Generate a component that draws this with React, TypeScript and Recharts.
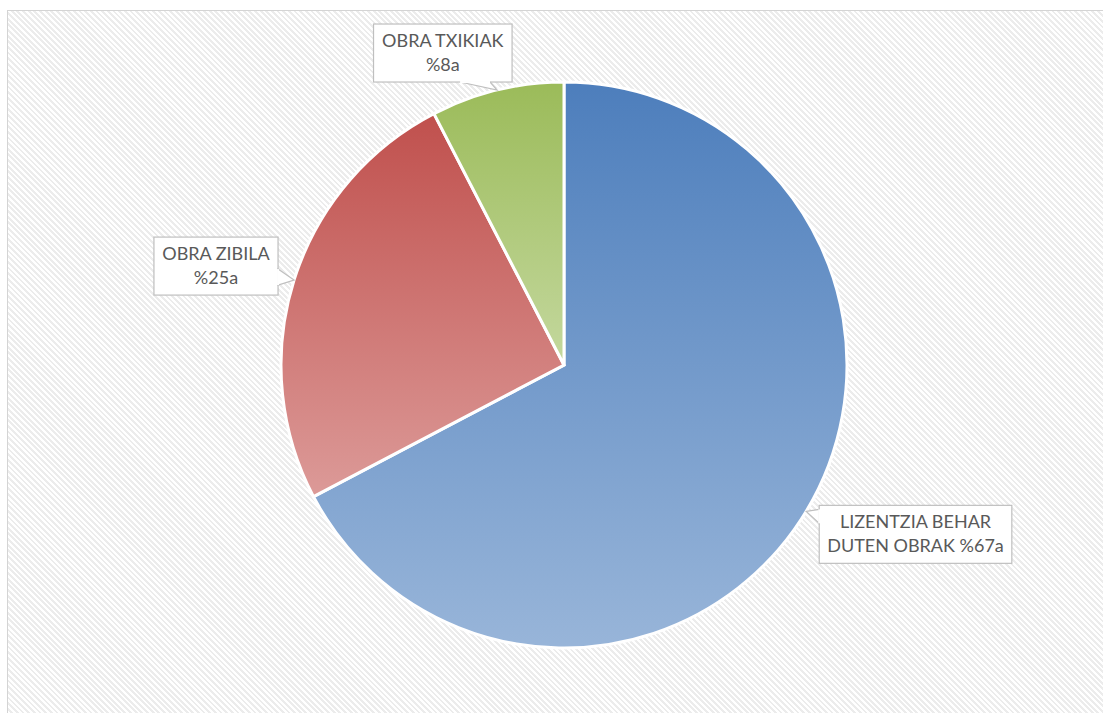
import { PieChart, Pie, Cell } from 'recharts'

const categories = ['LIZENTZIA BEHAR DUTEN OBRAK', 'OBRA ZIBILA', 'OBRA TXIKIAK']
const values = [67.3, 25.1, 7.6]
const percentLabels = ['%67a', '%25a', '%8a']
// how each callout wraps its text
const labelLines = [
  ['LIZENTZIA BEHAR', 'DUTEN OBRAK %67a'],
  ['OBRA ZIBILA', '%25a'],
  ['OBRA TXIKIAK', '%8a'],
]

const gradients = [
  { id: 'gBlue', top: '#4d7ebc', bottom: '#98b5d9' },
  { id: 'gRed', top: '#c0504d', bottom: '#dc9a98' },
  { id: 'gGreen', top: '#9bbb59', bottom: '#c4d89e' },
]

const data = categories.map((name, i) => ({ name, value: values[i], pct: percentLabels[i] }))

const FONT = 'Lato, "Open Sans", sans-serif'
const FONT_SIZE = 18
const LINE_H = 24

let ctx: CanvasRenderingContext2D | null = null
const measure = (s: string) => {
  if (!ctx) ctx = document.createElement('canvas').getContext('2d')
  if (!ctx) return s.length * 9
  ctx.font = `${FONT_SIZE}px Lato`
  return ctx.measureText(s).width
}

const RAD = Math.PI / 180

const Callout = (props: any) => {
  const { cx, cy, midAngle, outerRadius, index } = props
  const lines = labelLines[index]
  const tx = cx + outerRadius * Math.cos(-midAngle * RAD)
  const ty = cy + outerRadius * Math.sin(-midAngle * RAD)
  const w = Math.max(...lines.map(measure)) + 16
  const h = lines.length * LINE_H + 10
  const c = Math.cos(-midAngle * RAD)
  let bx: number, by: number
  let pts: number[][]
  if (c > 0.5) {
    // box to the right of the tip
    bx = tx + 13
    by = ty - 6
    pts = [[bx, by + 4], [tx, ty], [bx, by + 18]]
  } else if (c < -0.5) {
    bx = tx - 16 - w
    by = ty - 43
    pts = [[bx + w, by + 32], [tx, ty], [bx + w, by + 48]]
  } else {
    bx = tx + 15 - w
    by = ty - 66
    pts = [[bx + w - 52, by + h], [tx, ty], [bx + w - 22, by + h]]
  }
  return (
    <g>
      <rect x={bx} y={by} width={w} height={h} fill="#ffffff" stroke="#bfbfbf" strokeWidth={1.2} />
      <polygon points={pts.map((p) => p.join(',')).join(' ')} fill="#ffffff" stroke="#bfbfbf" strokeWidth={1.2} />
      <line x1={pts[0][0]} y1={pts[0][1]} x2={pts[2][0]} y2={pts[2][1]} stroke="#ffffff" strokeWidth={2} />
      {lines.map((ln, i) => (
        <text
          key={i}
          x={bx + w / 2}
          y={by + 5 + LINE_H * (i + 1) - 6}
          textAnchor="middle"
          fill="#595959"
          fontFamily={FONT}
          fontSize={FONT_SIZE}
        >
          {ln}
        </text>
      ))}
    </g>
  )
}

export default function App() {
  return (
    <div
      style={{
        position: 'fixed',
        left: 7,
        top: 10,
        boxSizing: 'border-box',
        width: 1096,
        height: 703,
        borderTop: '1px solid #d4d4d4',
        borderLeft: '1px solid #d4d4d4',
        backgroundColor: '#ffffff',
        backgroundImage:
          'repeating-linear-gradient(45deg, #ffffff 0px, #ffffff 2px, #ececec 2px, #ececec 4px)',
        overflow: 'hidden',
      }}
    >
      <PieChart width={1095} height={702}>
        <defs>
          {gradients.map((g) => (
            <linearGradient key={g.id} id={g.id} x1="0" y1="0" x2="0" y2="1">
              <stop offset="0%" stopColor={g.top} />
              <stop offset="100%" stopColor={g.bottom} />
            </linearGradient>
          ))}
        </defs>
        <Pie
          data={data}
          dataKey="value"
          nameKey="name"
          cx={551}
          cy={349}
          outerRadius={283}
          startAngle={90}
          endAngle={-270}
          stroke="#ffffff"
          strokeWidth={3}
          label={Callout}
          labelLine={false}
          isAnimationActive={false}
        >
          {data.map((d, i) => (
            <Cell key={d.name} fill={`url(#${gradients[i].id})`} />
          ))}
        </Pie>
      </PieChart>
    </div>
  )
}
